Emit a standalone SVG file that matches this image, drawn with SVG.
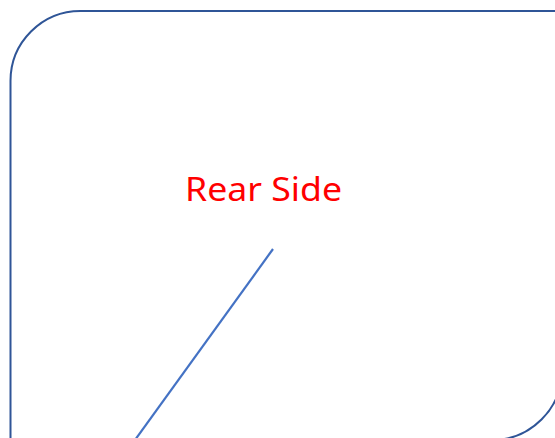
<svg xmlns="http://www.w3.org/2000/svg" width="555" height="438" viewBox="0 0 555 438">
<style>
.frame{fill:none;stroke:#2F5597;stroke-width:2}
.conn{stroke:#4472C4;stroke-width:2.2;fill:none}
.lbl{font-family:"Noto Sans","Open Sans",sans-serif;font-size:32px;fill:#FF0000}
</style>
<rect width="555" height="438" fill="#FFFFFF"/>
<g id="frame">
<path class="frame" d="M10.5,460 V81 A70,70 0 0 1 80.5,11 H562 V370 A70,70 0 0 1 492,440 H10.5 Z"/>
</g>
<g id="label">
<text class="lbl" x="185" y="201" textLength="157" lengthAdjust="spacingAndGlyphs">Rear Side</text>
</g>
<g id="connectors">
<line class="conn" x1="273" y1="249" x2="135" y2="440"/>
</g>
</svg>
